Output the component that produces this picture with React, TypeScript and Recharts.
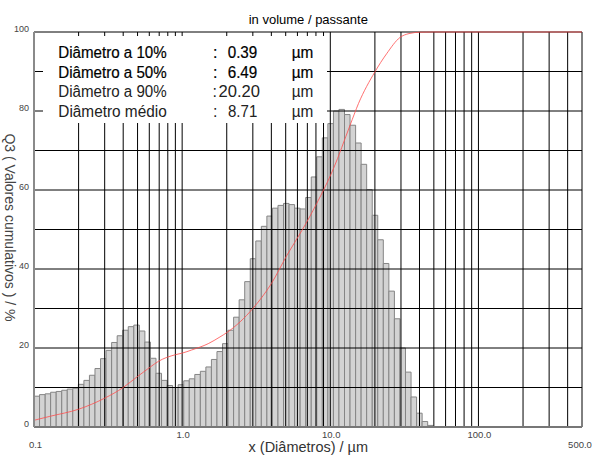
import {
  ComposedChart,
  XAxis,
  YAxis,
  CartesianGrid,
  ReferenceArea,
  Line,
} from "recharts";

// size classes (µm), lower edge of each bar + upper edge of the last one
const EDGES = [
  0.1, 0.109, 0.119, 0.1295, 0.1412, 0.1539, 0.1677, 0.1828, 0.1993, 0.2172,
  0.2367, 0.258, 0.2813, 0.3066, 0.3342, 0.3643, 0.397, 0.4328, 0.4717, 0.5142,
  0.5604, 0.6109, 0.6659, 0.7258, 0.7911, 0.8623, 0.9399, 1.025, 1.117, 1.217,
  1.327, 1.446, 1.576, 1.718, 1.873, 2.041, 2.225, 2.425, 2.644, 2.882,
  3.141, 3.424, 3.732, 4.068, 4.434, 4.833, 5.268, 5.742, 6.259, 6.822,
  7.436, 8.105, 8.834, 9.63, 10.5, 11.44, 12.47, 13.59, 14.82, 16.15,
  17.6, 19.19, 20.91, 22.8, 24.85, 27.08, 29.52, 32.18, 35.08, 38.23,
  41.67, 45.42, 49.51,
];

// histogram (density) per class
const FREQ = [
  7.8, 8.2, 8.4, 8.8, 9.0, 9.3, 9.6, 9.8, 10.8, 11.8,
  13.1, 14.8, 17.3, 19.4, 21.4, 23.1, 24.5, 25.4, 25.8, 24.3,
  21.5, 17.4, 13.6, 11.8, 10.5, 10.0, 10.7, 11.7, 12.2, 13.3,
  14.1, 15.2, 17.1, 19.1, 21.1, 24.5, 27.8, 32.2, 36.8, 42.6,
  47.1, 50.8, 53.4, 55.4, 56.1, 56.6, 56.3, 55.4, 55.2, 58.1,
  63.3, 68.4, 73.2, 76.8, 80.0, 80.4, 79.1, 76.4, 71.9, 66.5,
  60.1, 53.6, 47.4, 41.4, 34.4, 27.4, 20.0, 13.9, 7.6, 3.5,
  1.4, 0.4,
];

// cumulative passing curve
const CUM_X = [0.1, 0.128, 0.2, 0.3, 0.4, 0.5, 0.61, 0.69, 0.9, 1.0, 1.16, 1.5, 1.8, 2.02, 3.0, 4.0, 5.1, 6.49, 8.1, 10.5, 13.6, 15.5, 20.0, 24.0, 29.5, 34.0, 40.3, 50, 500];
const CUM_Y = [1.7, 2.7, 4.5, 7.3, 10.0, 12.8, 15.2, 16.6, 18.3, 18.7, 19.5, 21.1, 22.8, 24.0, 30.0, 36.3, 43.5, 50.0, 56.6, 65.4, 76.4, 81.9, 89.9, 94.5, 98.6, 99.6, 99.95, 100, 100];

const X_TICKS = [0.1, 1, 10, 100, 500];
const X_TICK_LABELS = ["0.1", "1.0", "10.0", "100.0", "500.0"];
const Y_TICKS = [0, 20, 40, 60, 80, 100];
const GRID_Y = [10, 20, 30, 40, 50, 60, 70, 80, 90, 100];
const GRID_X = [
  0.2, 0.3, 0.4, 0.5, 0.6, 0.7, 0.8, 0.9, 1, 2, 3, 4, 5, 6, 7, 8, 9,
  10, 20, 30, 40, 50, 60, 70, 80, 90, 100, 200, 300, 400, 500,
];

const STAT_LABELS = ["Diâmetro a 10%", "Diâmetro a 50%", "Diâmetro a 90%", "Diâmetro médio"];
const STAT_VALUES = ["0.39", "6.49", "20.20", "8.71"];

const FONT = "'Liberation Sans', Arial, sans-serif";

const cumData = CUM_X.map((x, i) => ({ x, y: CUM_Y[i] }));

const XTick = (props: any) => {
  const { x, y, payload } = props;
  const i = X_TICKS.indexOf(payload.value);
  const last = X_TICKS.length - 1;
  const dx = i === 0 ? 1.5 : i === last ? -2 : 1;
  return (
    <text
      x={x + dx}
      y={y + (i === 0 || i === last ? 19 : 9)}
      textAnchor="middle"
      fontSize={9.5}
      fill="#444"
    >
      {X_TICK_LABELS[i]}
    </text>
  );
};

const YTick = (props: any) => {
  const { x, y, payload } = props;
  return (
    <text x={x - 3} y={y} textAnchor="end" fontSize={9} fill="#444">
      {payload.value}
    </text>
  );
};

export default function App() {
  const rowY = [58, 77.5, 97, 116.5];
  const valX = [227.7, 227.7, 218.5, 228];
  const valW = [29.6, 29.6, 41.5, 29.3];

  return (
    <div style={{ position: "absolute", left: 0, top: 0, width: 595, height: 455, fontFamily: FONT, background: "#fff" }}>
      <ComposedChart
        width={595}
        height={455}
        data={cumData}
        margin={{ top: 32, right: 13, bottom: 0, left: 0 }}
      >
        <XAxis
          dataKey="x"
          type="number"
          scale="log"
          domain={[0.1, 500]}
          allowDataOverflow
          ticks={X_TICKS}
          interval={0}
          tickLine={false}
          tickSize={0}
          tick={<XTick />}
          height={28}
          axisLine={{ stroke: "#777", strokeWidth: 2 }}
        />
        <YAxis
          type="number"
          domain={[0, 100]}
          ticks={Y_TICKS}
          interval={0}
          width={34}
          tickLine={false}
          tickSize={0}
          tick={<YTick />}
          axisLine={{ stroke: "#8a8a8a", strokeWidth: 2 }}
        />
        {FREQ.map((v, i) => (
          <ReferenceArea
            key={i}
            x1={EDGES[i]}
            x2={EDGES[i + 1]}
            y1={0}
            y2={v}
            fill="#d3d3d3"
            fillOpacity={1}
            stroke="#858585"
            strokeWidth={1}
            ifOverflow="visible"
          />
        ))}
        <CartesianGrid
          horizontalValues={GRID_Y}
          verticalValues={GRID_X}
          stroke="#000"
          strokeWidth={1}
          zIndex={150}
        />
        <Line
          dataKey="y"
          type="monotone"
          stroke="#ff4d4d"
          strokeWidth={0.8}
          dot={false}
          isAnimationActive={false}
        />
      </ComposedChart>
      <svg
        width={595}
        height={455}
        style={{ position: "absolute", left: 0, top: 0, pointerEvents: "none" }}
      >
        <text x={308.3} y={24} textAnchor="middle" fontSize={13} fill="#000">
          in volume / passante
        </text>
        <text
          transform="translate(9.5,227.5) rotate(90)"
          textAnchor="middle"
          dominantBaseline="central"
          fontSize={14}
          fill="#444"
        >
          Q3 ( Valores cumulativos ) / %
        </text>
        <text x={308.3} y={452} textAnchor="middle" fontSize={14.5} fill="#333">
          x (Diâmetros) / µm
        </text>
        <rect x={43} y={36} width={284} height={87} fill="#fff" />
        {STAT_LABELS.map((lab, i) => {
          const strong = i < 2;
          const extra = strong ? { stroke: "#000", strokeWidth: 0.2 } : {};
          return (
            <g key={lab} fontSize={16} fill={strong ? "#000" : "#222"}>
              <text x={58.3} y={rowY[i]} textLength={108.4} lengthAdjust="spacingAndGlyphs" {...extra}>
                {lab}
              </text>
              <text x={i === 2 ? 212.5 : 213} y={rowY[i]} {...extra}>
                :
              </text>
              <text x={valX[i]} y={rowY[i]} textLength={valW[i]} lengthAdjust="spacingAndGlyphs" {...extra}>
                {STAT_VALUES[i]}
              </text>
              <text x={291.7} y={rowY[i]} textLength={21.6} lengthAdjust="spacingAndGlyphs" {...extra}>
                µm
              </text>
            </g>
          );
        })}
      </svg>
    </div>
  );
}
